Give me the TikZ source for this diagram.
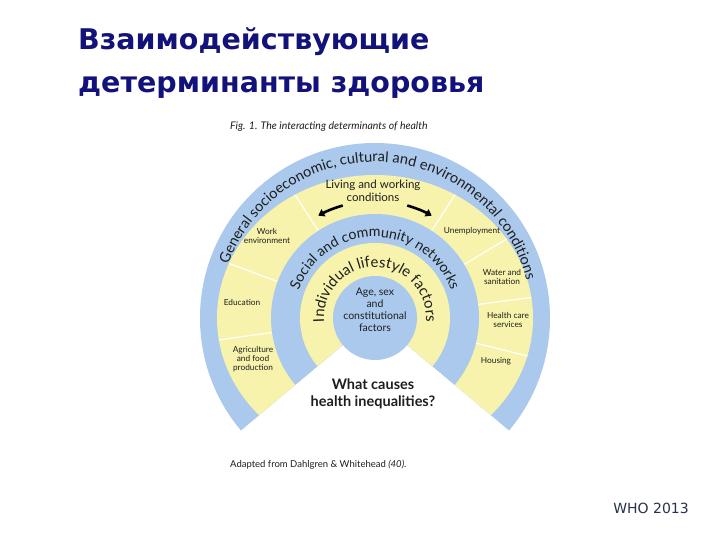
\documentclass[tikz,border=0pt]{standalone}
\usepackage{fontspec}
\setmainfont{Lato}
\newfontfamily\titlefont{DejaVu Sans}
\usetikzlibrary{decorations.text,arrows.meta}
\definecolor{ringblue}{RGB}{170,201,236}
\definecolor{ringyellow}{RGB}{247,243,172}
\definecolor{titleblue}{RGB}{18,18,122}
\definecolor{whogray}{RGB}{40,50,75}
\definecolor{inkc}{RGB}{30,30,30}
\begin{document}
\begin{tikzpicture}[x=1pt,y=1pt,
  lab/.style={font=\fontsize{8.3}{9.2}\selectfont, align=center, text=inkc, inner sep=0pt},
  divider/.style={white, line width=1.2pt},
  bigarrow/.style={line width=2.6pt, -{Triangle[length=6pt,width=8pt]}, black},
  arctext/.style={decorate, decoration={text along path, text align=center, text color=inkc}},
  titletext/.style={anchor=base west, inner sep=0pt, text=titleblue, font=\titlefont\bfseries\fontsize{28.5}{32}\selectfont}]
\useasboundingbox (-375,-222) rectangle (345,318);
\fill[white] (-375,-222) rectangle (345,318);
% rings, cut by the white wedge below
\begin{scope}
  \clip (0,0) -- (220:400) -- (180:400) -- (90:400) -- (0:400) -- (-40:400) -- cycle;
  \fill[ringblue] (0,0) circle[radius=175];
  \fill[ringyellow] (0,0) ellipse[x radius=158, y radius=143];
  \begin{scope}
    \clip (0,0) ellipse[x radius=158, y radius=143];
    \foreach \a in {123,159.5,188,57,31,7.5,-14}
      \draw[divider] (\a:95) -- (\a:175);
  \end{scope}
  \fill[ringblue] (0,0) circle[radius=104];
  \fill[ringyellow] (0,0) circle[radius=75];
\end{scope}
\fill[ringblue] (0,0) circle[radius=42];
% arrows
\draw[bigarrow] (106:117) arc[start angle=106,end angle=119,radius=117];
\draw[bigarrow] (74:117) arc[start angle=74,end angle=61,radius=117];
% arc texts
\path[arctext, decoration={text={|\fontsize{14.6}{16}\selectfont|General socioeconomic{,} cultural and environmental conditions}}]
  (200:156) arc[start angle=200,end angle=-26,radius=156];
\path[arctext, decoration={text={|\fontsize{14.2}{16}\selectfont|Social and community networks}}]
  (210:81) arc[start angle=210,end angle=-30,radius=81];
\path[arctext, decoration={text={|\fontsize{15}{17}\selectfont|Individual lifestyle factors}}]
  (235:51) arc[start angle=235,end angle=-55,radius=51];
% labels
\node[lab, font=\fontsize{11.5}{13}\selectfont] (living) at (-2,127) {Living and working\\conditions};
\node[lab] (work) at (-108,82) {Work\\environment};
\node[lab] (unemp) at (97,87) {Unemployment};
\node[lab] (edu) at (-133,16) {Education};
\node[lab] (agri) at (-122,-41) {Agriculture\\and food\\production};
\node[lab] (water) at (127,41) {Water and\\sanitation};
\node[lab] (health) at (133,-2) {Health care\\services};
\node[lab] (housing) at (121,-43) {Housing};
\node[lab, font=\fontsize{10.5}{12}\selectfont] (age) at (0,8) {Age, sex\\and\\constitutional\\factors};
\node[lab, font=\bfseries\fontsize{14.5}{17}\selectfont] (what) at (-2,-76) {What causes\\health inequalities?};
\node[lab, anchor=west, font=\itshape\fontsize{10.5}{12}\selectfont] (fig) at (-145,191) {Fig. 1. The interacting determinants of health};
\node[lab, anchor=west, font=\fontsize{9.5}{11}\selectfont] (adapted) at (-145,-147) {Adapted from Dahlgren \& Whitehead \textit{(40)}.};
% title
\node[titletext] (t1) at (-297,268) {Взаимодействующие};
\node[titletext] (t2) at (-297,225) {детерминанты здоровья};
\node[inner sep=0pt, text=whogray, font=\titlefont\fontsize{14}{16}\selectfont] (who) at (276,-190) {WHO 2013};
\end{tikzpicture}
\end{document}
